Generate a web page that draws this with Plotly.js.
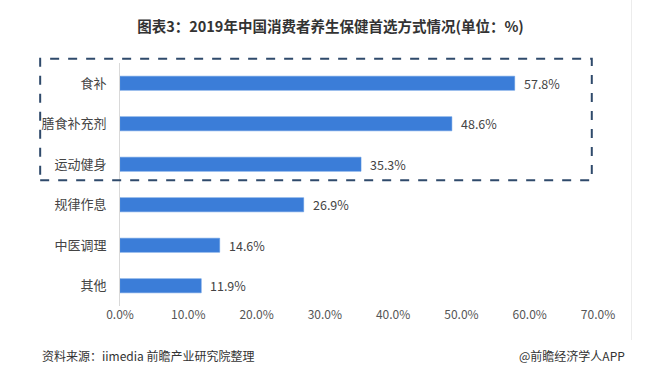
<!DOCTYPE html>
<html><head><meta charset="utf-8">
<script src="https://cdn.plot.ly/plotly-3.0.1.min.js"></script>
<style>html,body{margin:0;padding:0;background:#fff;}#c{width:661px;height:377px;}</style>
</head><body><div id="c"></div>
<script>
const categories = ['食补','膳食补充剂','运动健身','规律作息','中医调理','其他'];
const values = [57.8, 48.6, 35.3, 26.9, 14.6, 11.9];
const tickVals = [0,10,20,30,40,50,60,70];
const tickText = ['0.0%','10.0%','20.0%','30.0%','40.0%','50.0%','60.0%','70.0%'];
const F = '"Noto Sans CJK SC", "Noto Sans", sans-serif';

const trace = {
  type:'bar', orientation:'h', y:categories, x:values,
  width:0.35,
  marker:{color:'#3b7dd8', line:{color:'#5b95e0', width:0.5}},
  hoverinfo:'none'
};
const labelAnns = values.map((v,i)=>({
  text: v.toFixed(1)+'%', x:v, y:categories[i], xref:'x', yref:'y',
  xanchor:'left', yanchor:'middle', xshift:7, showarrow:false,
  font:{family:F, size:12.5, color:'#444'}
}));
const layout = {
  width:661, height:377,
  margin:{l:120, r:63, t:63, b:71},
  paper_bgcolor:'#fff', plot_bgcolor:'#fff',
  showlegend:false,
  title:{text:'<b>图表3：2019年中国消费者养生保健首选方式情况(单位：%)</b>', x:0.5, xanchor:'center', y:0.928, yanchor:'middle', font:{family:F, size:14.5, color:'#333'}},
  xaxis:{range:[0,70], tickvals:tickVals, ticktext:tickText, showgrid:false, zeroline:false, showline:false, ticks:'', tickfont:{family:F, size:12, color:'#555'}, fixedrange:true},
  yaxis:{autorange:'reversed', categoryorder:'array', categoryarray:categories, showline:true, linecolor:'#d9d9d9', linewidth:1, ticks:'', ticklen:0, ticklabelstandoff:10, tickfont:{family:F, size:13, color:'#444'}, fixedrange:true, automargin:false},
  shapes:[
    {type:'rect', xref:'paper', yref:'paper', x0:-0.167, x1:0.987, y0:0.517, y1:1.018, line:{color:'#2f4a6b', width:2, dash:'dash'}, fillcolor:'rgba(0,0,0,0)'},
    {type:'line', xref:'paper', yref:'paper', x0:1.07, x1:1.07, y0:-0.14, y1:1.26, line:{color:'#ececec', width:1}}
  ],
  annotations: labelAnns.concat([
    {text:'资料来源：iimedia 前瞻产业研究院整理', xref:'paper', yref:'paper', x:-0.167, xanchor:'left', y:-0.205, yanchor:'middle', showarrow:false, font:{family:F, size:12, color:'#333'}},
    {text:'@前瞻经济学人APP', xref:'paper', yref:'paper', x:1.06, xanchor:'right', y:-0.205, yanchor:'middle', showarrow:false, font:{family:F, size:12, color:'#333'}}
  ])
};
Plotly.newPlot('c',[trace],layout,{displayModeBar:false, staticPlot:true});
</script></body></html>
